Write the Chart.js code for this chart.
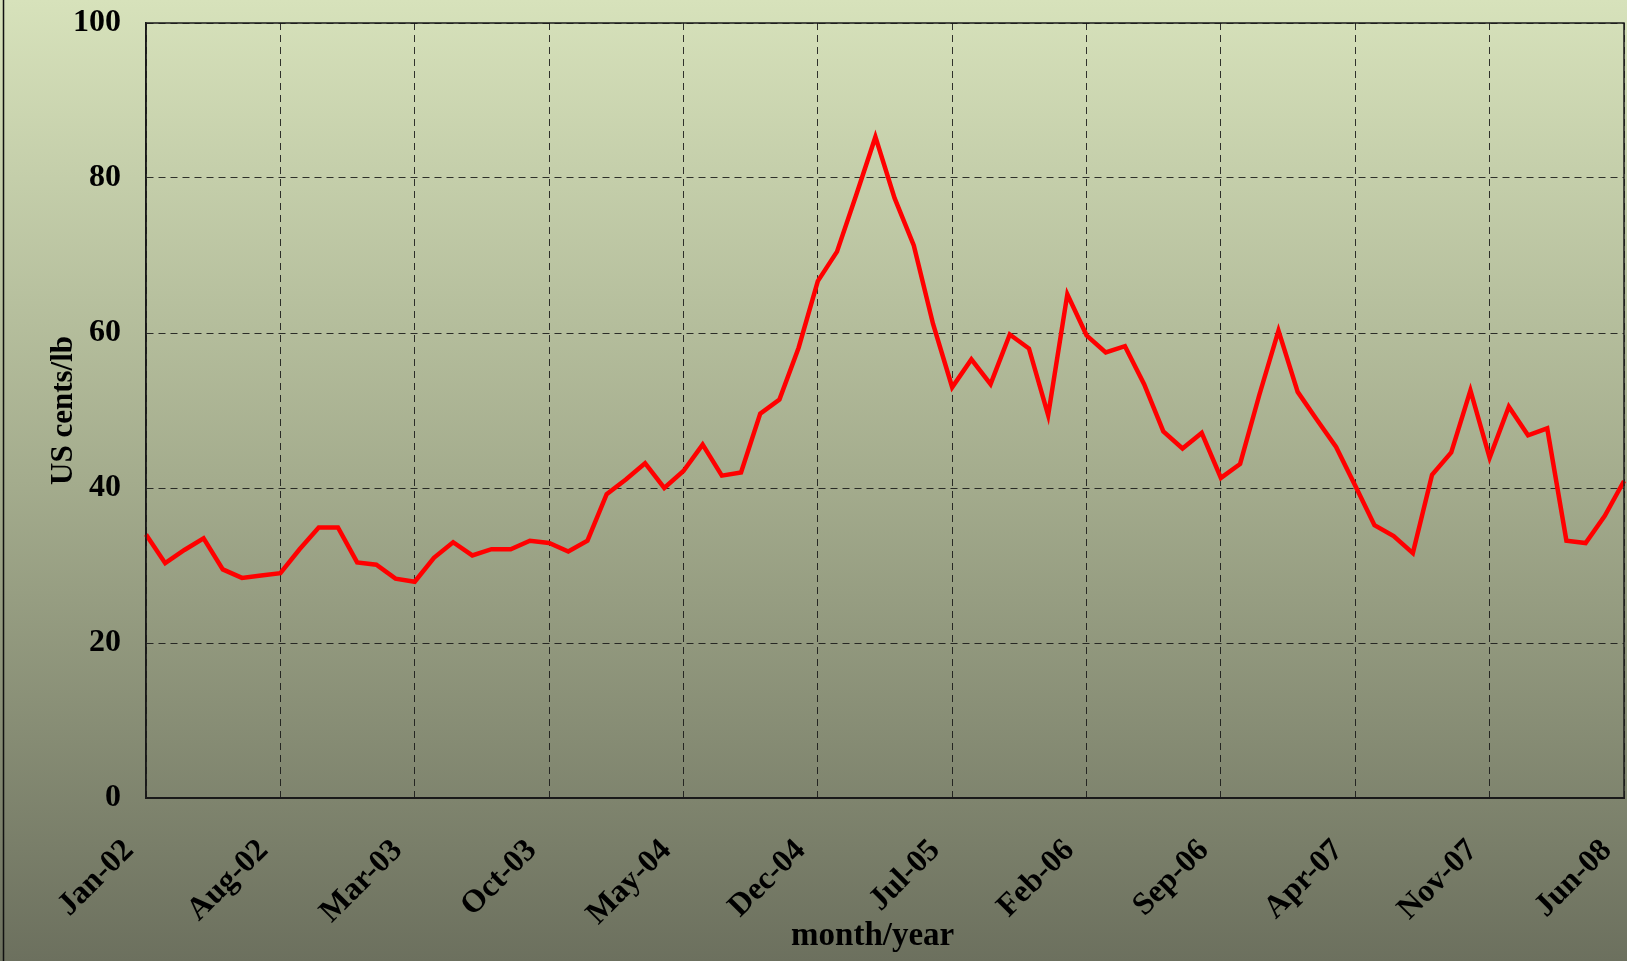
<!DOCTYPE html>
<html>
<head>
<meta charset="utf-8">
<script src="https://cdn.jsdelivr.net/npm/chart.js@4.4.1/dist/chart.umd.min.js"></script>
<style>
  html, body { margin: 0; padding: 0; }
  #wrap { width: 1627px; height: 961px; position: relative; }
</style>
</head>
<body>
<div id="wrap"><canvas id="price-chart"></canvas></div>
<script>
// monthly labels, Jan-02 .. Jun-08
const months = [
  'Jan-02','Feb-02','Mar-02','Apr-02','May-02','Jun-02','Jul-02','Aug-02','Sep-02','Oct-02','Nov-02','Dec-02',
  'Jan-03','Feb-03','Mar-03','Apr-03','May-03','Jun-03','Jul-03','Aug-03','Sep-03','Oct-03','Nov-03','Dec-03',
  'Jan-04','Feb-04','Mar-04','Apr-04','May-04','Jun-04','Jul-04','Aug-04','Sep-04','Oct-04','Nov-04','Dec-04',
  'Jan-05','Feb-05','Mar-05','Apr-05','May-05','Jun-05','Jul-05','Aug-05','Sep-05','Oct-05','Nov-05','Dec-05',
  'Jan-06','Feb-06','Mar-06','Apr-06','May-06','Jun-06','Jul-06','Aug-06','Sep-06','Oct-06','Nov-06','Dec-06',
  'Jan-07','Feb-07','Mar-07','Apr-07','May-07','Jun-07','Jul-07','Aug-07','Sep-07','Oct-07','Nov-07','Dec-07',
  'Jan-08','Feb-08','Mar-08','Apr-08','May-08','Jun-08'
];

// US cents/lb
const prices = [
  34.0, 30.3, 32.0, 33.5, 29.5, 28.4, 28.7, 29.0, 32.1, 34.9, 34.9, 30.4,
  30.1, 28.3, 27.9, 31.0, 33.0, 31.3, 32.1, 32.1, 33.2, 32.9, 31.8, 33.2,
  39.2, 41.1, 43.2, 40.0, 42.2, 45.6, 41.6, 42.0, 49.6, 51.4, 58.1, 66.7,
  70.5, 77.8, 85.3, 77.4, 71.3, 61.2, 53.0, 56.6, 53.4, 59.8, 58.0, 49.4,
  65.0, 59.7, 57.5, 58.3, 53.4, 47.3, 45.1, 47.1, 41.3, 43.1, 52.0, 60.3,
  52.4, 48.8, 45.3, 40.3, 35.2, 33.8, 31.6, 41.7, 44.6, 52.6, 43.9, 50.5,
  46.8, 47.7, 33.2, 32.9, 36.4, 40.9
];

// only every 7th month gets a label / grid line
const labelStep = 7;

const serif = "'Liberation Serif', 'Times New Roman', serif";
Chart.defaults.font.family = serif;
Chart.defaults.font.weight = 'bold';
Chart.defaults.color = '#000';

// gradient backdrop + outer frame
const backdrop = {
  id: 'backdrop',
  beforeDraw(chart) {
    const { ctx, width, height } = chart;
    const g = ctx.createLinearGradient(0, 0, 0, height);
    g.addColorStop(0, '#d7e2bb');
    g.addColorStop(0.5, '#a4ac8d');
    g.addColorStop(1, '#6c705e');
    ctx.save();
    ctx.fillStyle = g;
    ctx.fillRect(0, 0, width, height);
    ctx.strokeStyle = '#111';
    ctx.lineWidth = 1.5;
    ctx.beginPath();
    ctx.moveTo(3.5, 0);
    ctx.lineTo(3.5, height);
    ctx.stroke();
    ctx.restore();
  },
  afterDatasetsDraw(chart) {
    const { ctx, chartArea: a } = chart;
    ctx.save();
    ctx.strokeStyle = '#1a1a1a';
    ctx.lineWidth = 1.5;
    ctx.strokeRect(a.left, a.top, a.right - a.left, a.bottom - a.top);
    ctx.restore();
  }
};

const ctx = document.getElementById('price-chart').getContext('2d');
new Chart(ctx, {
  type: 'line',
  data: {
    labels: months,
    datasets: [{
      data: prices,
      borderColor: '#ff0000',
      borderWidth: 4.5,
      borderJoinStyle: 'miter',
      pointRadius: 0,
      tension: 0,
      fill: false
    }]
  },
  options: {
    responsive: true,
    maintainAspectRatio: false,
    animation: false,
    layout: { padding: { left: 10, right: 3, top: 23, bottom: 0 } },
    plugins: {
      legend: { display: false },
      tooltip: { enabled: false }
    },
    scales: {
      x: {
        offset: false,
        grid: {
          color: 'rgba(20,20,20,0.85)',
          lineWidth: 1,
          drawTicks: false
        },
        border: { display: true, color: '#1a1a1a', width: 2, dash: [7, 5] },
        ticks: {
          autoSkip: false,
          maxRotation: 45,
          minRotation: 45,
          padding: 34,
          labelOffset: -17,
          font: { size: 32, weight: 'bold' },
          callback: function (val, i) {
            return i % labelStep === 0 ? months[i] : null;
          }
        },
        title: {
          display: true,
          text: 'month/year   ',
          font: { size: 33, weight: 'bold' },
          padding: { top: 0, bottom: 5 }
        },
        afterFit(scale) {
          scale.height = 163;
          scale.paddingLeft = 0;
          scale.paddingRight = 0;
        }
      },
      y: {
        min: 0,
        max: 100,
        grid: {
          color: 'rgba(20,20,20,0.85)',
          lineWidth: 1,
          drawTicks: false
        },
        border: { display: true, color: '#1a1a1a', width: 1.5, dash: [7, 5] },
        ticks: {
          stepSize: 20,
          padding: 25,
          font: { size: 32, weight: 'bold' }
        },
        title: {
          display: true,
          text: 'US cents/lb',
          font: { size: 31, weight: 'bold' },
          padding: { top: 35, bottom: 0 }
        },
        afterFit(scale) {
          scale.width = 136;
          scale.paddingTop = 0;
          scale.paddingBottom = 0;
        }
      }
    }
  },
  plugins: [backdrop]
});
</script>
</body>
</html>
